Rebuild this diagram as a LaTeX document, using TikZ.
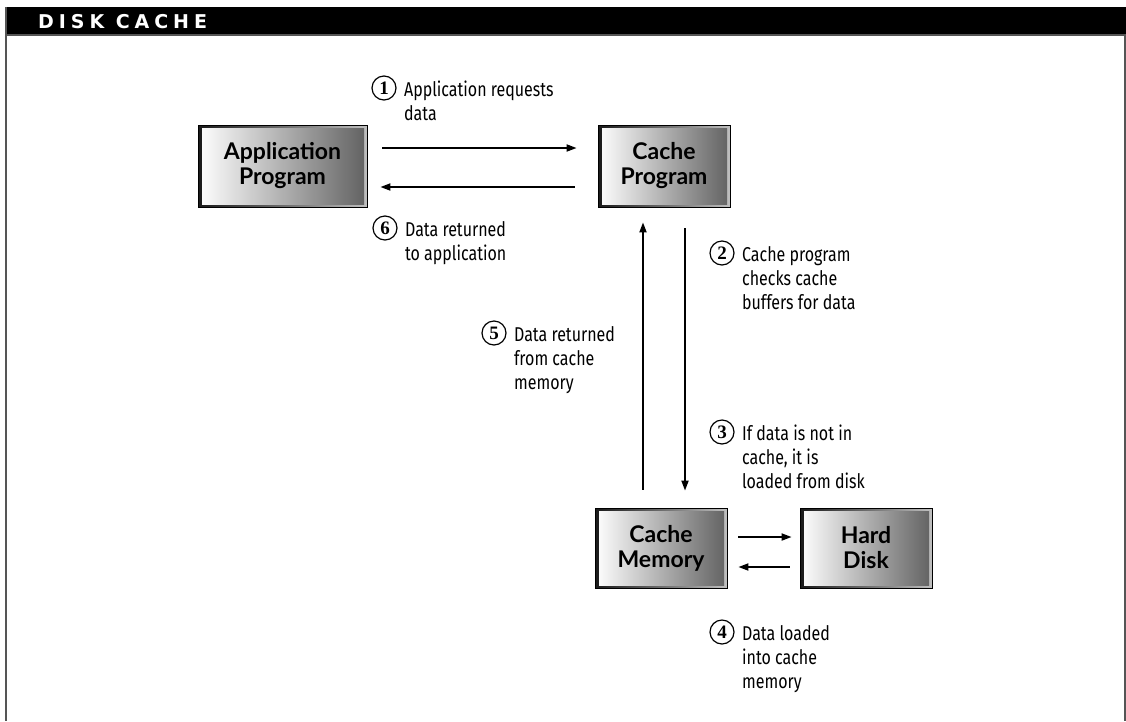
\documentclass[tikz,border=0pt]{standalone}
\usepackage{fontspec}
\usepackage{xcolor}
\usetikzlibrary{arrows.meta, positioning, calc}
\setmainfont{Fira Sans}
\newfontfamily\notefont[FakeStretch=0.8]{Fira Sans}
\newfontfamily\boxfont{Lato}
\newfontfamily\numfont{Liberation Serif}
\newfontfamily\headfont[LetterSpace=26]{DejaVu Sans}
\definecolor{framegray}{RGB}{85, 85, 85}

\begin{document}
\begin{tikzpicture}[
  x=1pt, y=-1pt,
  box/.style={
    draw=black, line width=0.8pt,
    left color=black!90, right color=black!25,
    minimum width=132pt, minimum height=82pt, inner sep=0pt,
    align=center, font=\boxfont\bfseries\fontsize{23}{25}\selectfont,
    path picture={
      \shade[left color=white, right color=black!62]
        ([shift={(4pt,3pt)}]path picture bounding box.south west) rectangle
        ([shift={(-3pt,-3pt)}]path picture bounding box.north east);
    }
  },
  arrow/.style={-{Triangle[length=10pt, width=7pt]}, line width=1.8pt},
  num/.style={
    circle, draw, line width=1.2pt, minimum size=24pt, inner sep=0pt,
    font=\numfont\bfseries\fontsize{19}{19}\selectfont
  },
  note/.style={
    anchor=north west, align=left, inner sep=0pt,
    font=\notefont\fontsize{20}{24}\selectfont
  }
]

  \useasboundingbox (0,0) rectangle (1126,721);

  % Cornice e intestazione
  \fill[black] (7,7) rectangle (1126,34);
  \draw[framegray, line width=2pt] (6,35) -- (1126,35);
  \draw[framegray, line width=2pt] (6,7) -- (6,721);
  \draw[framegray, line width=1.5pt] (1125,35) -- (1125,721);
  \node[anchor=base west, text=white, inner sep=0pt,
        font=\headfont\bfseries\fontsize{19}{19}\selectfont] (title) at (38,28) {DISK CACHE};

  % Riquadri
  \node[box, minimum width=169pt] (app) at (282.5,166) {Application\\Program};
  \node[box] (cprog) at (664,166) {Cache\\Program};
  \node[box, minimum height=80pt] (cmem) at (661,548) {Cache\\Memory};
  \node[box, minimum height=80pt] (disk) at (866,548) {Hard\\Disk};

  % Frecce orizzontali in alto
  \draw[arrow, shorten <=15pt, shorten >=21pt] ([yshift=18pt]app.east) -- ([yshift=18pt]cprog.west);
  \draw[arrow, shorten <=23pt, shorten >=13pt] ([yshift=-21pt]cprog.west) -- ([yshift=-21pt]app.east);

  % Frecce verticali
  \draw[arrow, shorten <=21pt, shorten >=17pt] ([xshift=21pt]cprog.south) -- ([xshift=21pt]cprog.south |- cmem.north);
  \draw[arrow, shorten <=18pt, shorten >=15pt] ([xshift=-21pt]cprog.south |- cmem.north) -- ([xshift=-21pt]cprog.south);

  % Frecce tra memoria e disco
  \draw[arrow, shorten <=11pt, shorten >=8pt] ([yshift=11pt]cmem.east) -- ([yshift=11pt]cmem.east -| disk.west);
  \draw[arrow, shorten <=10pt, shorten >=11pt] ([yshift=-19pt]cmem.east -| disk.west) -- ([yshift=-19pt]cmem.east);

  % Passi numerati
  \node[num] (n1) at (384,88) {1};
  \node[note] (t1) at ([xshift=11pt, yshift=-2pt]n1.north east) {Application requests\\data};
  \node[num] (n2) at (722,253) {2};
  \node[note] (t2) at ([xshift=11pt, yshift=-2pt]n2.north east) {Cache program\\checks cache\\buffers for data};
  \node[num] (n3) at (722,432) {3};
  \node[note] (t3) at ([xshift=11pt, yshift=-2pt]n3.north east) {If data is not in\\cache, it is\\loaded from disk};
  \node[num] (n4) at (722,632) {4};
  \node[note] (t4) at ([xshift=11pt, yshift=-2pt]n4.north east) {Data loaded\\into cache\\memory};
  \node[num] (n5) at (494,333) {5};
  \node[note] (t5) at ([xshift=11pt, yshift=-2pt]n5.north east) {Data returned\\from cache\\memory};
  \node[num] (n6) at (385,228) {6};
  \node[note] (t6) at ([xshift=11pt, yshift=-2pt]n6.north east) {Data returned\\to application};

\end{tikzpicture}
\end{document}
